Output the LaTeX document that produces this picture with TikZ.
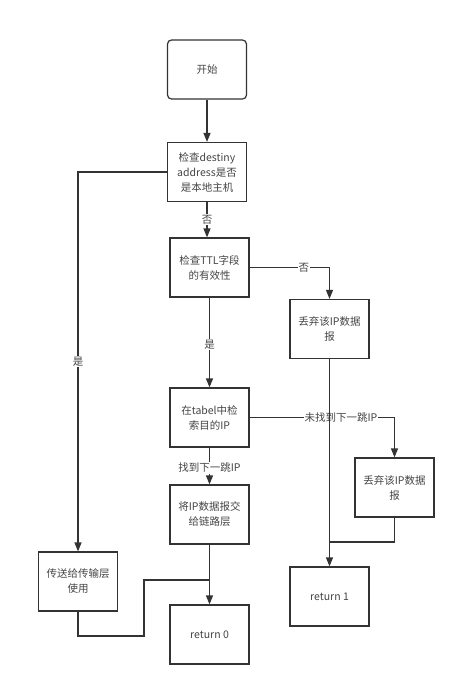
\documentclass[tikz,border=0pt]{standalone}
\usepackage{fontspec}
\setmainfont{Noto Sans CJK SC}
\usetikzlibrary{arrows.meta}
\definecolor{ln}{HTML}{333333}
\definecolor{tx}{HTML}{444444}
\begin{document}
\begin{tikzpicture}[x=1pt,y=-1pt,
  box/.style={draw=ln,line width=1.2pt,minimum width=79pt,minimum height=59pt,
    align=center,text=tx,font=\fontsize{10.5}{15}\selectfont,inner sep=0pt},
  conn/.style={draw=ln,line width=1.2pt},
  arr/.style={conn,-{Triangle[length=9pt,width=7pt]}},
  lbl/.style={fill=white,text=tx,font=\fontsize{10.5}{13}\selectfont,inner sep=1pt}]
\useasboundingbox (0,0) rectangle (460,691);
\node[box,rounded corners=4pt] (start) at (207,69.5) {开始};
\node[box] (check) at (207,172) {检查destiny\\address是否\\是本地主机};
\node[box] (ttl) at (209.5,267.5) {检查TTL字段\\的有效性};
\node[box] (drop1) at (329.5,329) {丢弃该IP数据\\报};
\node[box] (tabel) at (209.5,417.5) {在tabel中检\\索目的IP};
\node[box] (link) at (209.5,514.5) {将IP数据报交\\给链路层};
\node[box] (drop2) at (394.5,487.5) {丢弃该IP数据\\报};
\node[box] (ret1) at (329.5,596.5) {return 1};
\node[box] (trans) at (78,581.5) {传送给传输层\\使用};
\node[box] (ret0) at (209.5,634.5) {return 0};
\coordinate (j1) at (329.5,542);
\coordinate (j2) at (209.5,580);
\coordinate (k1) at (144,636);
\coordinate (k2) at (144,580);

\draw[arr] (start.south) -- (check.north);
\draw[arr] (check.south) -- node[lbl,pos=0.5]{否} (check.south |- ttl.north);
\draw[arr] (ttl.east) -- (drop1.north |- ttl.east) node[lbl,pos=0.68]{否} -- (drop1.north);
\draw[arr] (ttl.south) -- node[lbl,pos=0.52]{是} (tabel.north);
\draw[arr] (tabel.east) -- (drop2.north |- tabel.east) node[lbl,pos=0.63]{未找到下一跳IP} -- (drop2.north);
\draw[arr] (tabel.south) -- node[lbl,pos=0.55]{找到下一跳IP} (link.north);
\draw[arr] (check.west) -| node[lbl,pos=0.75]{是} (trans.north);
\draw[arr] (drop1.south) -- (ret1.north);
\draw[conn] (drop2.south) |- (j1);
\draw[arr] (link.south) -- (ret0.north);
\draw[conn] (trans.south) |- (k1) -- (k2) -- (j2);
\end{tikzpicture}
\end{document}
